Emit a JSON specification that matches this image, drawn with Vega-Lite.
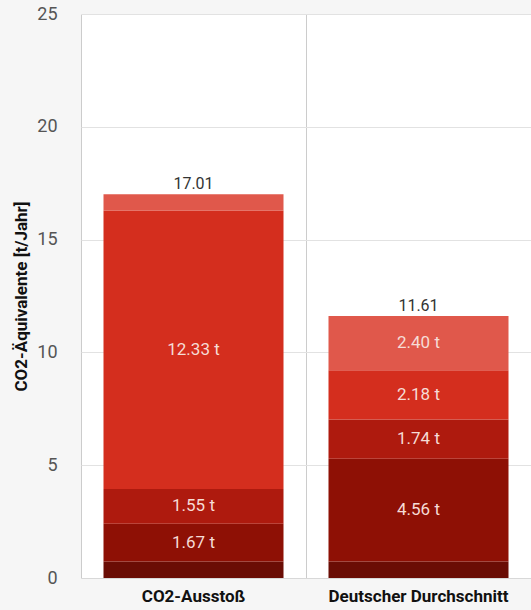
{
  "$schema": "https://vega.github.io/schema/vega-lite/v6.json",
  "width": 450,
  "height": 564,
  "autosize": {"type": "none"},
  "padding": {"left": 81, "top": 14, "right": 0, "bottom": 32},
  "background": "#f6f6f6",
  "config": {
    "view": {"fill": "#ffffff", "stroke": null},
    "font": "Roboto"
  },
  "data": {
    "values": [
      {"bar": "CO2-Ausstoß", "cat": "K1", "order": 1, "value": 0.73, "label": ""},
      {"bar": "CO2-Ausstoß", "cat": "K2", "order": 2, "value": 1.67, "label": "1.67 t"},
      {"bar": "CO2-Ausstoß", "cat": "K3", "order": 3, "value": 1.55, "label": "1.55 t"},
      {"bar": "CO2-Ausstoß", "cat": "K4", "order": 4, "value": 12.33, "label": "12.33 t"},
      {"bar": "CO2-Ausstoß", "cat": "K5", "order": 5, "value": 0.73, "label": ""},
      {"bar": "Deutscher Durchschnitt", "cat": "K1", "order": 1, "value": 0.73, "label": ""},
      {"bar": "Deutscher Durchschnitt", "cat": "K2", "order": 2, "value": 4.56, "label": "4.56 t"},
      {"bar": "Deutscher Durchschnitt", "cat": "K3", "order": 3, "value": 1.74, "label": "1.74 t"},
      {"bar": "Deutscher Durchschnitt", "cat": "K4", "order": 4, "value": 2.18, "label": "2.18 t"},
      {"bar": "Deutscher Durchschnitt", "cat": "K5", "order": 5, "value": 2.40, "label": "2.40 t"}
    ]
  },
  "encoding": {
    "x": {
      "field": "bar",
      "type": "nominal",
      "sort": null,
      "scale": {"paddingInner": 0.2, "paddingOuter": 0.1},
      "axis": {
        "title": null,
        "labelAngle": 0,
        "labelFont": "Roboto",
        "labelFontSize": 17,
        "labelFontWeight": "bold",
        "labelColor": "#111111",
        "labelPadding": 10,
        "ticks": false,
        "domain": true,
        "domainColor": "#d8d8d8",
        "grid": true,
        "bandPosition": -0.125,
        "gridColor": "#cccccc"
      }
    }
  },
  "layer": [
    {
      "mark": {"type": "bar"},
      "encoding": {
        "y": {
          "field": "value",
          "type": "quantitative",
          "aggregate": "sum",
          "stack": "zero",
          "scale": {"domain": [0, 25], "nice": false},
          "axis": {
            "title": "CO2-Äquivalente [t/Jahr]",
            "titleFont": "Roboto",
            "titleFontSize": 17,
            "titleFontWeight": "bold",
            "titleColor": "#111111",
            "titlePadding": 6,
            "values": [0, 5, 10, 15, 20, 25],
            "labelFont": "Roboto",
            "labelFontSize": 18,
            "labelColor": "#555555",
            "labelPadding": 24,
            "ticks": false,
            "domain": false,
            "gridColor": "#e2e2e2"
          }
        },
        "color": {
          "field": "cat",
          "type": "nominal",
          "scale": {
            "domain": ["K1", "K2", "K3", "K4", "K5"],
            "range": ["#6a0d05", "#8e1005", "#ae1a0e", "#d42e1e", "#e0584b"]
          },
          "legend": null
        },
        "order": {"field": "order", "type": "quantitative"}
      }
    },
    {
      "transform": [
        {"stack": "value", "groupby": ["bar"], "sort": [{"field": "order"}], "as": ["s0", "s1"]},
        {"filter": "datum.value > 1"},
        {"fold": ["s0", "s1"], "as": ["k", "v"]}
      ],
      "mark": {"type": "text", "font": "Roboto", "fontSize": 17, "color": "#f6dcd6", "baseline": "middle", "align": "center"},
      "encoding": {
        "y": {"field": "v", "type": "quantitative", "aggregate": "mean"},
        "text": {"field": "label", "type": "nominal"},
        "detail": {"field": "cat", "type": "nominal"}
      }
    },
    {
      "mark": {"type": "text", "font": "Roboto", "fontSize": 16, "color": "#333333", "baseline": "bottom", "dy": -2},
      "encoding": {
        "y": {"field": "value", "type": "quantitative", "aggregate": "sum"},
        "text": {"field": "value", "type": "quantitative", "aggregate": "sum", "format": ".2f"}
      }
    }
  ]
}
